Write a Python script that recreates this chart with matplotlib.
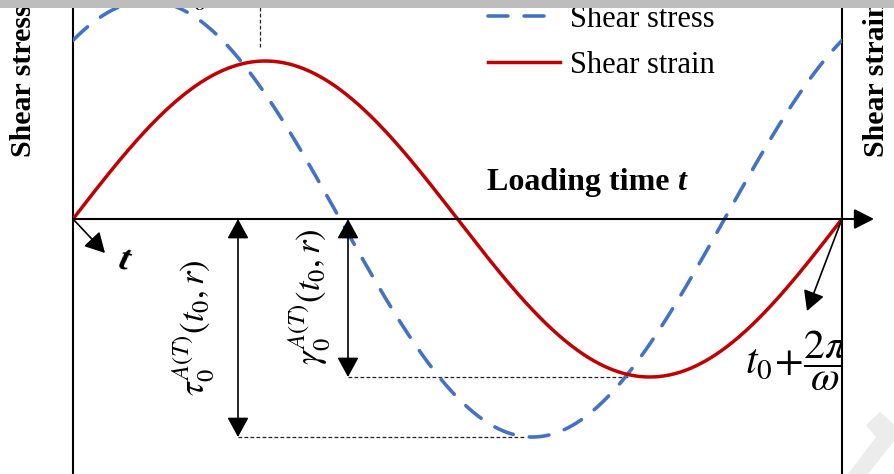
import numpy as np
import matplotlib
matplotlib.use("Agg")
import matplotlib.pyplot as plt
from matplotlib.patches import Rectangle, FancyArrowPatch, Polygon

plt.rcParams['font.family'] = ['Liberation Serif', 'DejaVu Serif']
plt.rcParams['mathtext.fontset'] = 'stix'

# ---- data (phase angle omega*t over one period, normalised amplitudes) ----
theta = np.linspace(0.0, 2 * np.pi, 600)
strain_amplitude = 1.0          # gamma_0
stress_amplitude = 1.38         # tau_0
phase_lead = 0.96               # stress leads strain (rad)
strain = strain_amplitude * np.sin(theta)
stress = stress_amplitude * np.sin(theta + phase_lead)
series_labels = ["Shear stress", "Shear strain"]
x_label = "Loading time "
y_label_left = "Shear stress"
y_label_right = "Shear strain"

W, H = 895, 474
fig = plt.figure(figsize=(W / 100, H / 100), dpi=100)
x0, x1 = 73, 842
ax = fig.add_axes([x0 / W, 0, (x1 - x0) / W, 1])
ax.set_xlim(0, 2 * np.pi)
pxu = 158.0  # pixels per unit amplitude
ax.set_ylim(-(H - 219) / pxu, 219 / pxu)
ax.set_xticks([]); ax.set_yticks([])
for s in ['top', 'bottom']:
    ax.spines[s].set_visible(False)
for s in ['left', 'right']:
    ax.spines[s].set_linewidth(1.5)
    ax.spines[s].set_color('black')
ax.patch.set_alpha(0)

blue = '#4472C4'
red = '#C00000'

ln_stress, = ax.plot(theta, stress, color=blue, lw=2.6, dashes=(5.5, 4.5),
                     dash_capstyle='round', zorder=3)
ln_strain, = ax.plot(theta, strain, color=red, lw=2.5, zorder=4)

def th(px):
    return (px - x0) / (x1 - x0) * 2 * np.pi

def yv(py):
    return (219 - py) / pxu

# x axis with arrow
ax.add_patch(FancyArrowPatch((0, 0), (th(874), 0), arrowstyle='-|>,head_length=0.55,head_width=0.28',
                             mutation_scale=22, lw=1.5, color='black', clip_on=False,
                             shrinkA=0, shrinkB=0, zorder=5))

# amplitude arrows
def darrow(x, ybot):
    ax.add_patch(FancyArrowPatch((x, 0), (x, ybot),
                                 arrowstyle='<|-|>,head_length=0.55,head_width=0.3',
                                 mutation_scale=22, lw=1.2, color='black',
                                 shrinkA=0, shrinkB=0, zorder=5))

tau_x = th(238)
gam_x = th(348)
darrow(tau_x, -stress_amplitude)
darrow(gam_x, -strain_amplitude)
ax.plot([tau_x, th(526)], [-stress_amplitude, -stress_amplitude], color='#222222',
        lw=0.9, dashes=(3, 1.8), zorder=2)
ax.plot([gam_x, th(629)], [-strain_amplitude, -strain_amplitude], color='#222222',
        lw=0.9, dashes=(3, 1.8), zorder=2)
ax.plot([th(260), th(260)], [yv(47), yv(0)], color='#222222', lw=0.9,
        dashes=(3, 1.8), zorder=2)
ax.text(th(201), yv(4), r'$\delta$', fontsize=18, ha='center', va='center')

# small arrows at start / end of the period
ax.add_patch(FancyArrowPatch((0, 0), (th(105), yv(253)),
                             arrowstyle='-|>,head_length=0.55,head_width=0.3',
                             mutation_scale=22, lw=1.2, color='black',
                             shrinkA=0, shrinkB=0, zorder=5, clip_on=False))
ax.add_patch(FancyArrowPatch((2 * np.pi, 0), (th(807), yv(311)),
                             arrowstyle='-|>,head_length=0.55,head_width=0.3',
                             mutation_scale=22, lw=1.2, color='black',
                             shrinkA=0, shrinkB=0, zorder=5, clip_on=False))
ax.text(th(124), yv(261), 't', fontsize=26, fontweight='heavy', fontstyle='italic',
        ha='center', va='center', color='black', rotation=-15)

# labels
ax.text(th(194), yv(328), r'$\tau_0^{A(T)}\left(t_0,r\right)$', fontsize=25,
        rotation=90, ha='center', va='center')
ax.text(th(310), yv(297), r'$\gamma_0^{A(T)}\left(t_0,r\right)$', fontsize=25,
        rotation=90, ha='center', va='center')
ax.text(th(745), yv(361), r'$t_{\mathrm{0}}\!+\!\dfrac{2\pi}{\omega}$', fontsize=30,
        ha='left', va='center', clip_on=True)

t1 = ax.text(th(487), yv(190), x_label, fontsize=23, fontweight='bold',
             ha='left', va='baseline')
ax.annotate('t', xy=(1, 0), xycoords=t1, xytext=(0, 0), textcoords='offset points',
            fontsize=23, fontweight='bold', fontstyle='italic', ha='left', va='bottom')

fig.text(24 / W, 1 - 157 / H, y_label_left, fontsize=21.5, fontweight='bold',
         rotation=90, ha='center', va='bottom')
fig.text(877 / W, 1 - 157 / H, y_label_right, fontsize=21.5, fontweight='bold',
         rotation=90, ha='center', va='bottom')

leg = ax.legend([ln_stress, ln_strain], series_labels, loc='upper left',
                bbox_to_anchor=(488 / W, 1 - 5 / H), bbox_transform=fig.transFigure,
                frameon=False, fontsize=22, borderpad=0, borderaxespad=0,
                handlelength=2.35, handletextpad=0.35, labelspacing=0.55)

# watermark and top grey band
fig.patches.append(Polygon([[848 / W, 1 - 474 / H], [868 / W, 1 - 474 / H], [895 / W, 1 - 440 / H],
                            [895 / W, 1 - 425 / H], [880 / W, 1 - 412 / H], [866 / W, 1 - 425 / H],
                            [876 / W, 1 - 437 / H]], closed=True, transform=fig.transFigure,
                           facecolor='#ececec', edgecolor='none', zorder=0))
fig.patches.append(Rectangle((0, 1 - 8 / H), 1, 8 / H, transform=fig.transFigure,
                             facecolor='#bdbdbd', edgecolor='none', zorder=10))

fig.savefig('out.png', dpi=100)
